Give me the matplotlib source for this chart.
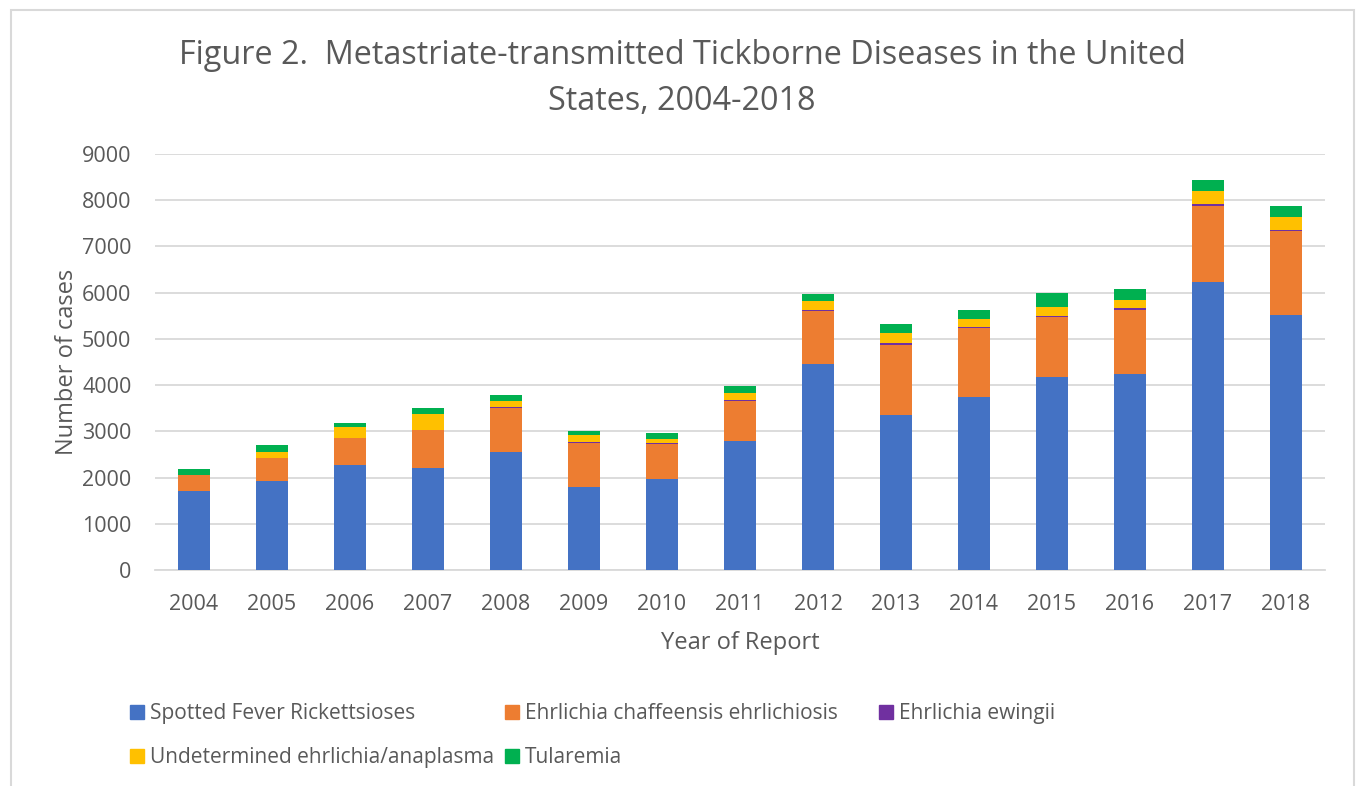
import numpy as np
import matplotlib.pyplot as plt
from matplotlib.patches import Rectangle, Patch

years = [str(y) for y in range(2004, 2019)]
spotted = [1700, 1930, 2275, 2215, 2560, 1805, 1970, 2790, 4460, 3345, 3740, 4180, 4250, 6230, 5525]
chaffeensis = [345, 495, 580, 820, 955, 950, 755, 865, 1150, 1520, 1495, 1300, 1385, 1650, 1800]
ewingii = [0, 0, 0, 0, 9, 7, 12, 16, 20, 43, 15, 18, 29, 43, 29]
undetermined = [0, 123, 230, 345, 137, 159, 100, 151, 187, 209, 190, 194, 187, 267, 288]
tularemia = [135, 151, 101, 130, 122, 93, 123, 165, 151, 209, 180, 303, 231, 245, 231]

series = [
    ('Spotted Fever Rickettsioses', spotted, '#4472C4'),
    ('Ehrlichia chaffeensis ehrlichiosis', chaffeensis, '#ED7D31'),
    ('Ehrlichia ewingii', ewingii, '#7030A0'),
    ('Undetermined ehrlichia/anaplasma', undetermined, '#FFC000'),
    ('Tularemia', tularemia, '#00B050'),
]

TXT = '#595959'
FONT = 'Open Sans'
plt.rcParams['font.family'] = [FONT, 'DejaVu Sans']

W, H = 1361, 786
fig = plt.figure(figsize=(W / 100, H / 100), dpi=100)
ax = fig.add_axes([155 / W, 1 - 570 / H, (1325 - 155) / W, (570 - 154) / H])

x = np.arange(len(years))
bottom = np.zeros(len(years))
handles = []
for name, vals, col in series:
    vals = np.array(vals, dtype=float)
    ax.bar(x, vals, 0.4, bottom=bottom, color=col, linewidth=0, zorder=3)
    bottom += vals
    handles.append(Patch(color=col, label=name))

ax.set_xlim(-0.5, len(years) - 0.5)
ax.set_ylim(0, 9000)
ax.set_yticks(range(0, 9001, 1000))
ax.set_xticks(x)
ax.set_xticklabels(years)
ax.yaxis.grid(True, color='#D9D9D9', linewidth=1.3, zorder=0)
for s in ['top', 'right', 'left']:
    ax.spines[s].set_visible(False)
ax.spines['bottom'].set_color('#D9D9D9')
ax.spines['bottom'].set_linewidth(1.3)
ax.tick_params(length=0, labelsize=15.5, colors=TXT)
ax.tick_params(axis='y', pad=17)
ax.tick_params(axis='x', pad=17)

ax.set_ylabel('Number of cases', fontsize=17, color=TXT, labelpad=2)
ax.set_xlabel('Year of Report', fontsize=17, color=TXT, labelpad=12)

fig.text(682 / W, 1 - 56 / H, 'Figure 2.  Metastriate-transmitted Tickborne Diseases in the United',
         ha='center', va='center', fontsize=23.3, color=TXT)
fig.text(682 / W, 1 - 102 / H, 'States, 2004-2018',
         ha='center', va='center', fontsize=23.3, color=TXT)

# legend columns at fixed offsets, row-major order like the original
cols = [[0, 3], [1, 4], [2]]
col_x = [130, 505, 879]
for idx, cx in zip(cols, col_x):
    fig.legend(handles=[handles[i] for i in idx], loc='upper left',
               bbox_to_anchor=(cx / W, 1 - 703 / H), frameon=False,
               fontsize=15, labelcolor=TXT, handlelength=0.67, handleheight=0.67,
               handletextpad=0.3, labelspacing=1.12, borderpad=0, borderaxespad=0)

fig.add_artist(Rectangle((11 / W, -0.05), (1354 - 11) / W, (786 - 10) / H + 0.05,
                         transform=fig.transFigure, fill=False,
                         edgecolor='#D9D9D9', linewidth=1.5))

fig.savefig('out.png', dpi=100)
